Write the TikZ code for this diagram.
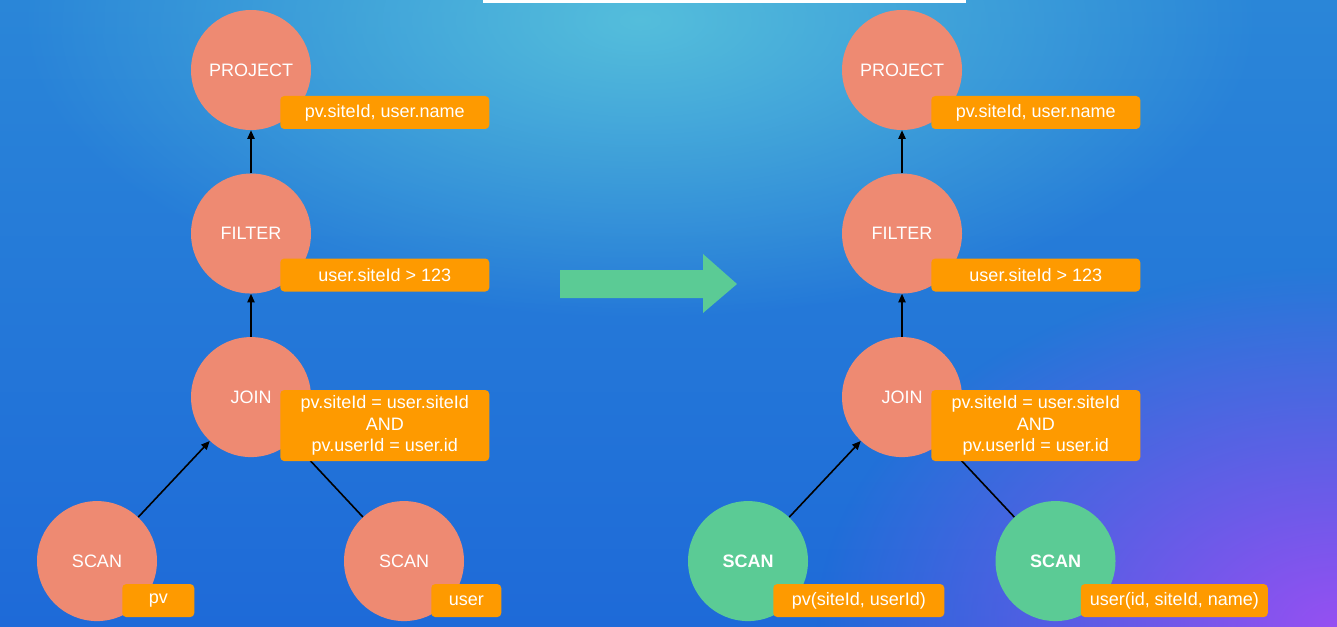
\documentclass[tikz,border=0pt]{standalone}
\usepackage{fontspec}
\setmainfont{Liberation Sans}
\usetikzlibrary{positioning,calc,fadings,arrows.meta}

\definecolor{salmon}{HTML}{EE8A72}
\definecolor{mint}{HTML}{5BCB95}
\definecolor{tagorange}{HTML}{FE9A00}
\definecolor{bgtop}{HTML}{2A86D8}
\definecolor{bgbottom}{HTML}{1E6AD8}
\definecolor{glowcyan}{HTML}{5CC8DC}
\definecolor{glowpurple}{HTML}{9650F2}

\tikzfading[name=glowfade, inner color=transparent!0, outer color=transparent!100]

\begin{document}
\begin{tikzpicture}[
    x=0.75pt, y=-0.75pt,
    node distance=32.25pt, % gap between operators
    op/.style={circle, fill=salmon, text=white, minimum size=90pt, inner sep=0pt,
        font=\fontsize{13.5pt}{16pt}\selectfont}, % plan operator
    scanop/.style={op, fill=mint, font=\fontsize{13.5pt}{16pt}\selectfont\bfseries}, % pushed-down scan
    tag/.style={rectangle, rounded corners=3pt, fill=tagorange, text=white, anchor=west,
        inner sep=0pt, minimum height=24.75pt, align=center,
        font=\fontsize{13.5pt}{16pt}\selectfont}, % operator details
    arrow/.style={-{Triangle[length=6.5pt,width=5.5pt]}, line width=1.2pt} % data flow
    ]

    % background
    \useasboundingbox (0,0) rectangle (1337,627);
    \shade[top color=bgtop, bottom color=bgbottom] (0,0) rectangle (1337,627);
    \fill[glowcyan, path fading=glowfade, fill opacity=0.85] (640,20) ellipse (620 and 300);
    \fill[glowpurple, path fading=glowfade] (1337,627) ellipse (520 and 360);
    \fill[white] (483,0) rectangle (966,3);

    % plan before
    \node[op] (P1) at (251,70) {PROJECT};
    \node[op, below=of P1] (F1) {FILTER};
    \node[op, below=of F1] (J1) {JOIN};
    \node[op] (SA1) at ($(J1)+(-154,164)$) {SCAN};
    \node[op] (SB1) at ($(J1)+(153,164)$) {SCAN};

    % plan after
    \node[op] (P2) at (902,70) {PROJECT};
    \node[op, below=of P2] (F2) {FILTER};
    \node[op, below=of F2] (J2) {JOIN};
    \node[scanop] (SA2) at ($(J2)+(-154,164)$) {SCAN};
    \node[scanop] (SB2) at ($(J2)+(153.5,164)$) {SCAN};

    % edges
    \foreach \k in {1,2} {
        \draw[arrow] (F\k) -- (P\k);
        \draw[arrow] (J\k) -- (F\k);
        \draw[arrow] (SA\k) -- (J\k);
        \draw[arrow] (SB\k) -- (J\k);
    }

    % details
    \foreach \k in {1,2} {
        \node[tag, minimum width=156.75pt] (tP\k) at ($(P\k)+(29,42.5)$) {pv.siteId, user.name};
        \node[tag, minimum width=156.75pt] (tF\k) at ($(F\k)+(29,41.5)$) {user.siteId > 123};
        \node[tag, minimum width=156.75pt, minimum height=53.25pt] (tJ\k) at ($(J\k)+(29,28.5)$)
            {pv.siteId = user.siteId\\AND\\pv.userId = user.id};
    }
    \node[tag, minimum width=54pt] (tSA1) at ($(SA1)+(25,39.5)$) {pv};
    \node[tag, minimum width=52.5pt] (tSB1) at ($(SB1)+(27,39.5)$) {user};
    \node[tag, minimum width=128.25pt] (tSA2) at ($(SA2)+(25,39.5)$) {pv(siteId, userId)};
    \node[tag, minimum width=140.25pt] (tSB2) at ($(SB2)+(25,39.5)$) {user(id, siteId, name)};

    % rewrite
    \fill[mint] (560,270) -- (703,270) -- (703,254) -- (737,284) -- (703,313)
        -- (703,298) -- (560,298) -- cycle;

\end{tikzpicture}
\end{document}
